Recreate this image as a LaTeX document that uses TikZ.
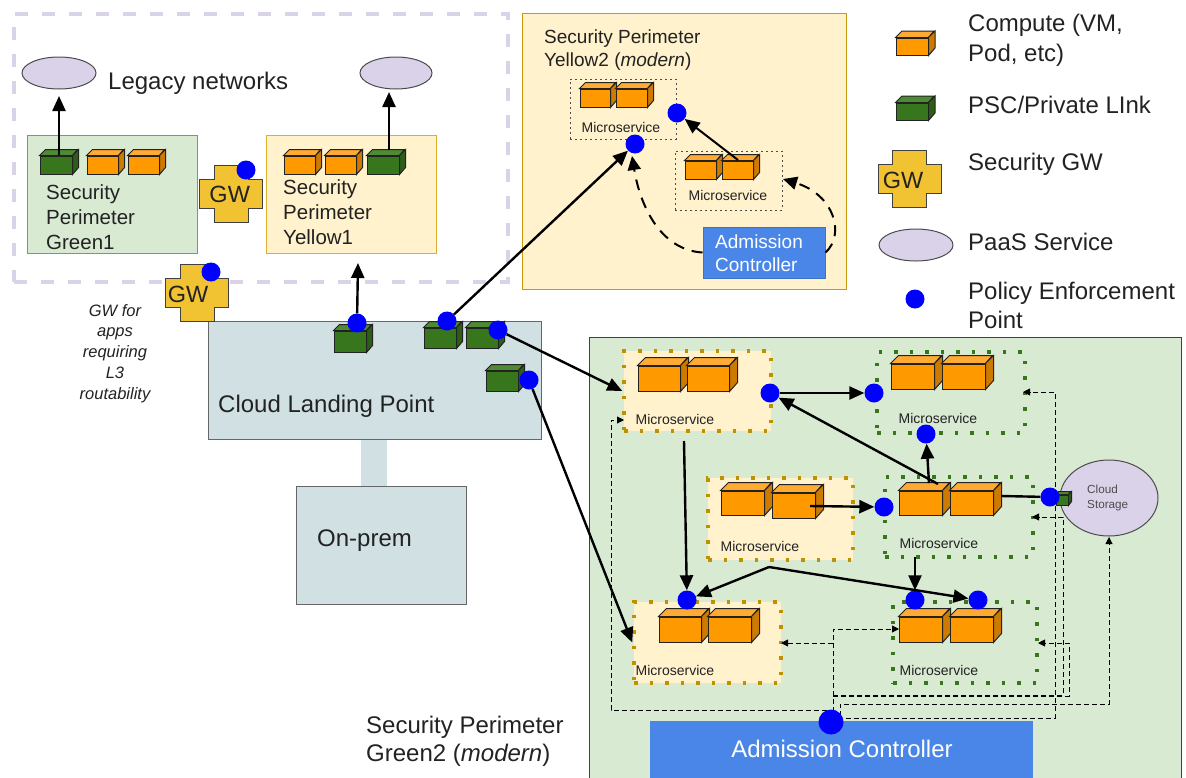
\documentclass[tikz,border=0pt]{standalone}
\usepackage{fontspec}
\setmainfont{Liberation Sans}
\usetikzlibrary{arrows.meta,calc,shapes.geometric}
\definecolor{txt}{HTML}{222222}
\definecolor{orangefront}{HTML}{FF9900}
\definecolor{orangetop}{HTML}{FFAB33}
\definecolor{orangeside}{HTML}{CC7A00}
\definecolor{greenfront}{HTML}{38761D}
\definecolor{greentop}{HTML}{4E8A34}
\definecolor{greenside}{HTML}{2D5E17}
\definecolor{paleyellow}{HTML}{FFF2CC}
\definecolor{palegreen}{HTML}{D9EAD3}
\definecolor{lavender}{HTML}{D9D2E9}
\definecolor{landing}{HTML}{D0E0E3}
\definecolor{acblue}{HTML}{4A86E8}
\definecolor{gwyellow}{HTML}{F1C232}
\definecolor{gold}{HTML}{BF9000}
\tikzset{
  lbl/.style={text=txt, inner sep=0pt, align=left, anchor=west},
  micro/.style={text=txt, inner sep=0pt, font=\fontsize{14}{16}\selectfont},
  pep/.style={circle, fill=blue, inner sep=0pt, minimum size=19pt},
  paas/.style={ellipse, draw=black!70, fill=lavender, line width=1pt, inner sep=0pt},
  perim/.style={line width=1pt, inner sep=0pt},
  msyellow/.style={fill=paleyellow, draw=gold, line width=3.5pt, dash pattern=on 3.5pt off 12pt, inner sep=0pt},
  msgreen/.style={draw=greenfront, line width=3.5pt, dash pattern=on 3.5pt off 12pt, inner sep=0pt},
  msthin/.style={draw=black!70, line width=1pt, dash pattern=on 2pt off 3pt, inner sep=0pt},
  flow/.style={line width=2.4pt, -{Triangle[length=15pt,width=13pt]}},
  ctrl/.style={line width=0.9pt, dash pattern=on 5pt off 3pt, -{Triangle[length=7pt,width=7pt]}},
  ctrlbig/.style={line width=2pt, dash pattern=on 11pt off 8pt, -{Triangle[length=14pt,width=13pt]}},
}
% colour, name, left, top of front face, width, height, depth
\newcommand{\cubenode}[7]{
  \node[draw=txt, fill=#1front, line width=1pt, inner sep=0pt, minimum width=#5pt, minimum height=#6pt] (#2) at ({#3+#5/2},{#4+#6/2}) {};
  \draw[fill=#1top, draw=txt, line width=1pt] (#2.north west) -- ++(#7,-#7) -- ++(#5,0) -- ($(#2.north east)$) -- cycle;
  \draw[fill=#1side, draw=txt, line width=1pt] (#2.north east) -- ++(#7,-#7) -- ++(0,#6) -- (#2.south east) -- cycle;
}
% name, centre x, centre y, text x, text y
\newcommand{\gwnode}[5]{
  \draw[fill=gwyellow, draw=black!75, line width=1pt] ({#2-17},{#3-28.5}) -- ({#2+17},{#3-28.5}) -- ({#2+17},{#3-14.5}) -- ({#2+31.5},{#3-14.5}) -- ({#2+31.5},{#3+14.5}) -- ({#2+17},{#3+14.5}) -- ({#2+17},{#3+28.5}) -- ({#2-17},{#3+28.5}) -- ({#2-17},{#3+14.5}) -- ({#2-31.5},{#3+14.5}) -- ({#2-31.5},{#3-14.5}) -- ({#2-17},{#3-14.5}) -- cycle;
  \node[text=txt, inner sep=0pt, font=\fontsize{23.5}{26}\selectfont] (#1) at (#4,#5) {GW};
}
\begin{document}
\begin{tikzpicture}[x=1pt,y=-1pt]
\clip (0,0) rectangle (1186,777);
% legacy networks
\node[draw=lavender, line width=3.5pt, dash pattern=on 13pt off 14pt, minimum width=494pt, minimum height=268pt, inner sep=0pt] (legacy) at (261,148) {};
\node[paas, minimum width=74pt, minimum height=32pt] (paasA) at (59,73) {};
\node[paas, minimum width=72pt, minimum height=32pt] (paasB) at (396,73) {};
\node[lbl, font=\fontsize{24}{28}\selectfont] (legacylbl) at (108,83) {Legacy networks};
\node[perim, draw=greenfront!70!white, fill=palegreen, minimum width=170pt, minimum height=118pt] (greenA) at (112,194) {};
\node[perim, draw=gwyellow!90!black, fill=paleyellow, minimum width=170pt, minimum height=118pt] (yellowA) at (351,194) {};
\node[lbl, font=\fontsize{20.5}{24.8}\selectfont] (greenAlbl) at (46,217) {Security\\Perimeter\\Green1};
\node[lbl, font=\fontsize{20.5}{24.8}\selectfont] (yellowAlbl) at (283,212) {Security\\Perimeter\\Yellow1};
\cubenode{green}{pscA}{40}{156}{32}{18}{6}
\cubenode{orange}{cmpA}{87}{156}{31}{18}{6}
\cubenode{orange}{cmpB}{128}{156}{31}{18}{6}
\cubenode{orange}{cmpC}{284}{156}{31}{18}{6}
\cubenode{orange}{cmpD}{325}{156}{31}{18}{6}
\cubenode{green}{pscB}{367}{156}{32}{18}{6}
\coordinate (pscAout) at (59,155);
\coordinate (paasAin) at (59,96);
\coordinate (pscBout) at (389,150);
\coordinate (paasBin) at (389,92);
\draw[flow] (pscAout) -- (paasAin);
\draw[flow] (pscBout) -- (paasBin);
\gwnode{gwA}{231}{194}{229.7}{194}
\node[pep] (pepgwA) at (246,170) {};
% yellow2
\node[perim, draw=gold!80!gwyellow, fill=paleyellow, minimum width=324pt, minimum height=276pt] (yellowB) at (684,151) {};
\node[lbl, font=\fontsize{19}{23}\selectfont] (yellowBlbl) at (544,50) {Security Perimeter\\Yellow2 (\textit{modern})};
\node[msthin, minimum width=106pt, minimum height=60pt] (msG) at (623,109) {};
\node[msthin, minimum width=107pt, minimum height=59pt] (msH) at (728.5,180.5) {};
\node[micro] (msGlbl) at (621,127) {Microservice};
\node[micro] (msHlbl) at (728,195) {Microservice};
\cubenode{orange}{cmpE}{580}{89}{30}{18}{6}
\cubenode{orange}{cmpF}{616}{89}{31}{18}{6}
\cubenode{orange}{cmpG}{685}{161}{31}{18}{6}
\cubenode{orange}{cmpH}{722}{161}{31}{18}{6}
\node[fill=acblue, draw=acblue!85!black, line width=1pt, minimum width=122pt, minimum height=51pt, inner sep=0pt] (acA) at (764,252.5) {};
\node[lbl, text=white, font=\fontsize{19}{23}\selectfont] (acAlbl) at (715,253) {Admission\\Controller};
\node[pep] (pepG) at (677,113) {};
\node[pep] (pepH) at (635,144) {};
\coordinate (cmpHout) at (738,160);
\draw[flow, line width=2pt] (cmpHout) -- (pepG);
\coordinate (msHin) at (783,179);
\coordinate (pepHin) at (632,156);
\draw[ctrlbig] (acA.west) .. controls (660,250) and (640,205) .. (pepHin);
\draw[ctrlbig] (acA.east) .. controls (845,235) and (835,195) .. (msHin);
% landing point
\node[fill=landing, inner sep=0pt, minimum width=26pt, minimum height=47pt] (link) at (374,462.5) {};
\node[draw=black!60, fill=landing, line width=1pt, inner sep=0pt, minimum width=333pt, minimum height=118pt] (landingbox) at (374.5,380) {};
\node[draw=black!60, fill=landing, line width=1pt, inner sep=0pt, minimum width=170pt, minimum height=118pt] (onprem) at (381,545) {};
\node[lbl, font=\fontsize{24}{28}\selectfont] (landinglbl) at (218,406) {Cloud Landing Point};
\node[lbl, font=\fontsize{24}{28}\selectfont] (onpremlbl) at (317,541) {On-prem};
\gwnode{gwB}{197}{293}{188}{294}
\node[pep] (pepgwB) at (211,272) {};
\node[text=txt, inner sep=0pt, align=center, font=\fontsize{16.5}{20.8}\itshape\selectfont] (gwnote) at (115,353.5) {GW for\\apps\\requiring\\L3\\routability};
\cubenode{green}{pscC}{334}{331}{32}{21}{6}
\cubenode{green}{pscD}{424}{328}{32}{20}{6}
\cubenode{green}{pscE}{466}{328}{32}{20}{6}
\cubenode{green}{pscF}{486}{371}{32}{20}{6}
\node[pep] (pepC) at (357,323) {};
\node[pep] (pepD) at (447,321) {};
\node[pep] (pepE) at (498,330) {};
\node[pep] (pepF) at (529,380) {};
\coordinate (yellowAin) at (358,263);
\draw[flow] (pepC) -- (yellowAin);
\draw[flow] (pepD) -- (pepH);
% green2
\node[draw=black!75, fill=palegreen, line width=1pt, inner sep=0pt, minimum width=592pt, minimum height=460pt] (greenB) at (885,567) {};
\node[lbl, font=\fontsize{24}{28}\selectfont] (greenBlbl) at (366,741) {Security Perimeter\\Green2 (\textit{modern})};
\node[msyellow, minimum width=147pt, minimum height=80pt] (msA) at (697.5,391) {};
\node[msyellow, minimum width=145pt, minimum height=82pt] (msB) at (780.5,519) {};
\node[msyellow, minimum width=147pt, minimum height=81pt] (msC) at (707.5,642.5) {};
\node[msgreen, minimum width=148pt, minimum height=81pt] (msD) at (951,392.5) {};
\node[msgreen, minimum width=148pt, minimum height=80pt] (msE) at (959,517) {};
\node[msgreen, minimum width=144pt, minimum height=81pt] (msF) at (965,642.5) {};
\foreach \name/\x/\y in {msAlbl/675/419, msBlbl/760/546, msClbl/675/670, msDlbl/938/418, msElbl/939/543, msFlbl/939/670}
  \node[micro] (\name) at (\x,\y) {Microservice};
\node[paas, minimum width=98pt, minimum height=76pt] (cloud) at (1109,498) {};
\node[lbl, text=black!70, font=\fontsize{11.7}{15}\selectfont] (cloudlbl) at (1087,498) {Cloud\\Storage};
\node[fill=acblue, inner sep=0pt, minimum width=383pt, minimum height=60pt] (acB) at (841.5,751) {};
\node[text=white, inner sep=0pt, font=\fontsize{24}{28}\selectfont] (acBlbl) at (842,749) {Admission Controller};
% compute
\cubenode{orange}{cmpA1}{638}{366}{42}{25}{8}
\cubenode{orange}{cmpA2}{687}{366}{42}{25}{8}
\cubenode{orange}{cmpD1}{891}{364}{43}{25}{8}
\cubenode{orange}{cmpD2}{942}{364}{43}{25}{8}
\cubenode{orange}{cmpB1}{721}{491}{43}{24}{8}
\cubenode{orange}{cmpB2}{772}{493}{43}{25}{8}
\cubenode{orange}{cmpE1}{899}{491}{43}{24}{8}
\cubenode{orange}{cmpE2}{950}{491}{43}{24}{8}
\cubenode{orange}{cmpC1}{659}{617}{42}{25}{8}
\cubenode{orange}{cmpC2}{708}{617}{43}{25}{8}
\cubenode{orange}{cmpF1}{899}{617}{43}{25}{8}
\cubenode{orange}{cmpF2}{950}{617}{43}{25}{8}
\cubenode{green}{pscG}{1056}{495}{12}{10}{3}
% policy points
\node[pep] (pepA) at (770,393) {};
\node[pep] (pepN) at (874,393) {};
\node[pep] (pepP) at (926,434) {};
\node[pep] (pepB) at (884,507) {};
\node[pep] (pepS) at (1050,497) {};
\node[pep] (pepK) at (687,600) {};
\node[pep] (pepL) at (915,600) {};
\node[pep] (pepM) at (978,600) {};
% data paths
\coordinate (cmpEtop) at (929,483);
\coordinate (cmpEup) at (938,484);
\coordinate (msAout) at (684,441);
\coordinate (cmpBout) at (810,506);
\coordinate (cmpEout) at (1001,496);
\coordinate (msEout) at (915,557);
\coordinate (split) at (769,567);
\draw[flow] (pepE) -- (msA.west);
\draw[flow] (pepF) -- (msC.west);
\draw[flow] (pepA) -- (pepN);
\draw[flow] (cmpEup) -- (pepA);
\draw[flow] (cmpEtop) -- (pepP);
\draw[flow] (msAout) -- (pepK);
\draw[flow] (cmpBout) -- (pepB);
\draw[line width=2.4pt] (cmpEout) -- (pepS);
\draw[flow] (msEout) -- (pepL);
\draw[flow] (split) -- (pepK);
\draw[flow] (split) -- (pepM);
% admission paths
\coordinate (acUp) at (833,712);
\coordinate (acOut) at (840,716);
\coordinate (inA) at (624,420);
\coordinate (inC) at (781,643);
\coordinate (inF) at (899,629);
\coordinate (inFb) at (1038,643);
\coordinate (inE) at (1032,517);
\coordinate (inD) at (1023,392);
\coordinate (inCloud) at (1109,537);
\draw[ctrl] (acUp) -- (833,710) -- (611,710) -- (611,420) -- (inA);
\draw[ctrl] (acUp) -- (833,629) -- (inF);
\draw[ctrl] (833,643) -- (inC);
\draw[ctrl] (833,696) -- (1069,696) -- (1069,643) -- (inFb);
\draw[ctrl] (833,695) -- (1063,695) -- (1063,517) -- (inE);
\draw[ctrl] (acOut) -- (840,704) -- (1109,704) -- (inCloud);
\draw[ctrl] (acOut) -- (840,718) -- (1055,718) -- (1055,392) -- (inD);
\node[pep, minimum size=25pt] (pepAC) at (831,722) {};
% legend
\cubenode{orange}{keyA}{896}{38}{32}{17}{6.5}
\cubenode{green}{keyB}{896}{103}{32}{17}{6.5}
\gwnode{keyC}{909.5}{178.5}{903}{180}
\node[paas, minimum width=74pt, minimum height=32pt] (keyD) at (916,245) {};
\node[pep] (keyE) at (915,299) {};
\node[lbl, font=\fontsize{24}{30}\selectfont] (keyAlbl) at (968,40) {Compute (VM,\\Pod, etc)};
\node[lbl, font=\fontsize{24}{28}\selectfont] (keyBlbl) at (968,105) {PSC/Private LInk};
\node[lbl, font=\fontsize{24}{28}\selectfont] (keyClbl) at (968,164) {Security GW};
\node[lbl, font=\fontsize{24}{28}\selectfont] (keyDlbl) at (968,242) {PaaS Service};
\node[lbl, font=\fontsize{24}{29}\selectfont] (keyElbl) at (968,305) {Policy Enforcement\\Point};
\end{tikzpicture}
\end{document}
